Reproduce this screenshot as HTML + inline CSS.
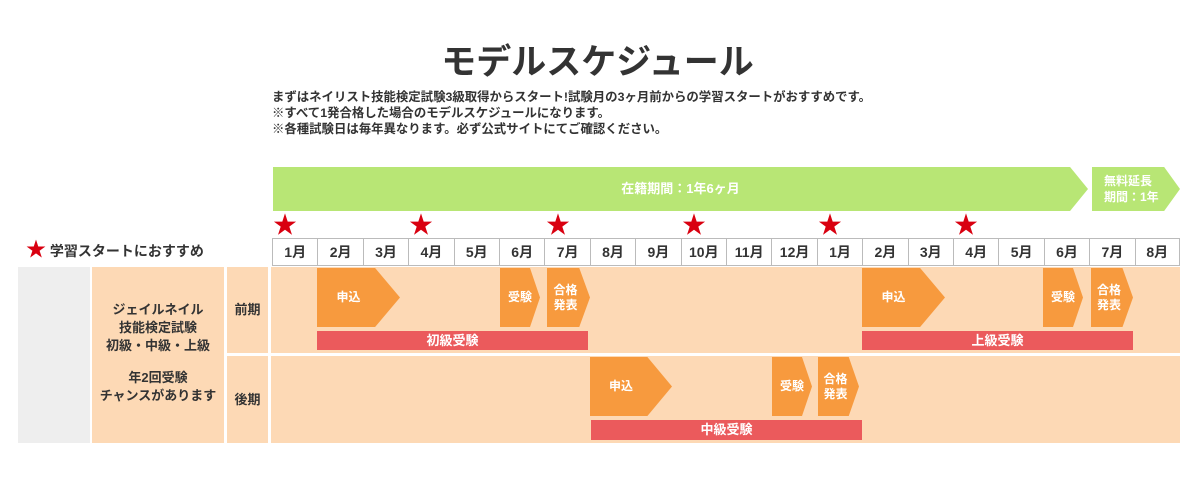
<!DOCTYPE html><html><head><meta charset="utf-8"><style>
body{margin:0;width:1200px;height:480px;background:#fff;position:relative;overflow:hidden;font-family:"Liberation Sans","Noto Sans CJK JP",sans-serif;}
.a{position:absolute;}
.t{font-weight:bold;color:#333;}
.m{position:absolute;top:238px;height:28px;width:45.4px;box-sizing:border-box;border-left:1px solid #bbb;border-top:1px solid #bbb;border-bottom:1px solid #bbb;background:#fff;text-align:center;line-height:27px;font-size:14px;font-weight:bold;color:#333;}
.ar{position:absolute;background:#f79a3e;color:#fff;font-weight:bold;font-size:12px;display:flex;align-items:center;justify-content:center;line-height:1.2;}
.rb{position:absolute;background:#eb5a5c;color:#fff;font-weight:bold;font-size:13px;text-align:center;}
.st{position:absolute;top:212px;color:#d90010;font-size:24px;line-height:28px;}
</style></head><body>
<div class="a t" style="left:0;width:1195px;text-align:center;top:34px;font-size:35px;">モデルスケジュール</div>
<div class="a t" style="left:272px;top:89px;font-size:12.4px;line-height:16px;">まずはネイリスト技能検定試験3級取得からスタート!試験月の3ヶ月前からの学習スタートがおすすめです。<br>※すべて1発合格した場合のモデルスケジュールになります。<br>※各種試験日は毎年異なります。必ず公式サイトにてご確認ください。</div>
<div class="a" style="left:273px;top:167px;width:815px;height:44px;background:#b8e675;clip-path:polygon(0 0,97.8% 0,100% 50%,97.8% 100%,0 100%);color:#fff;font-weight:bold;font-size:13px;line-height:44px;text-align:center;">在籍期間：1年6ヶ月</div>
<div class="a" style="left:1092px;top:167px;width:88px;height:44px;background:#b8e675;clip-path:polygon(0 0,82% 0,100% 50%,82% 100%,0 100%);color:#fff;font-weight:bold;font-size:12px;line-height:16px;padding:6px 0 0 12px;box-sizing:border-box;">無料延長<br>期間：1年</div>
<div class="st" style="left:273px">★</div><div class="st" style="left:409px">★</div><div class="st" style="left:546px">★</div><div class="st" style="left:682px">★</div><div class="st" style="left:818px">★</div><div class="st" style="left:954px">★</div>
<div class="a t" style="left:26px;top:238px;font-size:14px;line-height:24px;"><span style="color:#d90010;font-size:20px;">★</span> 学習スタートにおすすめ</div>
<div class="m" style="left:272px">1月</div><div class="m" style="left:317.4px">2月</div><div class="m" style="left:362.8px">3月</div><div class="m" style="left:408.2px">4月</div><div class="m" style="left:453.6px">5月</div><div class="m" style="left:499px">6月</div><div class="m" style="left:544.4px">7月</div><div class="m" style="left:589.8px">8月</div><div class="m" style="left:635.2px">9月</div><div class="m" style="left:680.6px">10月</div><div class="m" style="left:726px">11月</div><div class="m" style="left:771.4px">12月</div><div class="m" style="left:816.8px">1月</div><div class="m" style="left:862.2px">2月</div><div class="m" style="left:907.6px">3月</div><div class="m" style="left:953px">4月</div><div class="m" style="left:998.4px">5月</div><div class="m" style="left:1043.8px">6月</div><div class="m" style="left:1089.2px">7月</div><div class="m" style="left:1134.6px;border-right:1px solid #bbb">8月</div>
<div class="a" style="left:18px;top:267px;width:72px;height:176px;background:#eeeeee"></div>
<div class="a t" style="left:92px;top:267px;width:132px;height:176px;background:#fdd9b5;font-size:13px;line-height:18px;text-align:center;box-sizing:border-box;padding-top:34px;">ジェイルネイル<br>技能検定試験<br>初級・中級・上級<div style="height:14px"></div>年2回受験<br>チャンスがあります</div>
<div class="a t" style="left:227px;top:267px;width:41px;height:86px;background:#fdd9b5;font-size:13px;line-height:86px;text-align:center;">前期</div>
<div class="a t" style="left:227px;top:356px;width:41px;height:87px;background:#fdd9b5;font-size:13px;line-height:87px;text-align:center;">後期</div>
<div class="a" style="left:271px;top:267px;width:909px;height:86px;background:#fdd9b5"></div>
<div class="a" style="left:271px;top:356px;width:909px;height:87px;background:#fdd9b5"></div>
<div class="ar" style="left:317px;top:268px;width:83px;height:59px;clip-path:polygon(0 0,70% 0,100% 50%,70% 100%,0 100%);padding-right:20px;box-sizing:border-box;">申込</div>
<div class="ar" style="left:500px;top:268px;width:40px;height:59px;clip-path:polygon(0 0,75% 0,100% 50%,75% 100%,0 100%);">受験</div>
<div class="ar" style="left:547px;top:268px;width:43px;height:59px;clip-path:polygon(0 0,75% 0,100% 50%,75% 100%,0 100%);padding-right:6px;box-sizing:border-box;">合格<br>発表</div>
<div class="rb" style="left:317px;top:331px;width:271px;height:19px;line-height:19px;">初級受験</div>
<div class="ar" style="left:862px;top:268px;width:83px;height:59px;clip-path:polygon(0 0,70% 0,100% 50%,70% 100%,0 100%);padding-right:20px;box-sizing:border-box;">申込</div>
<div class="ar" style="left:1043px;top:268px;width:40px;height:59px;clip-path:polygon(0 0,75% 0,100% 50%,75% 100%,0 100%);">受験</div>
<div class="ar" style="left:1091px;top:268px;width:42px;height:59px;clip-path:polygon(0 0,75% 0,100% 50%,75% 100%,0 100%);padding-right:6px;box-sizing:border-box;">合格<br>発表</div>
<div class="rb" style="left:862px;top:331px;width:271px;height:19px;line-height:19px;">上級受験</div>
<div class="ar" style="left:590px;top:357px;width:82px;height:59px;clip-path:polygon(0 0,70% 0,100% 50%,70% 100%,0 100%);padding-right:20px;box-sizing:border-box;">申込</div>
<div class="ar" style="left:772px;top:357px;width:40px;height:59px;clip-path:polygon(0 0,75% 0,100% 50%,75% 100%,0 100%);">受験</div>
<div class="ar" style="left:818px;top:357px;width:41px;height:59px;clip-path:polygon(0 0,75% 0,100% 50%,75% 100%,0 100%);padding-right:6px;box-sizing:border-box;">合格<br>発表</div>
<div class="rb" style="left:591px;top:420px;width:271px;height:20px;line-height:20px;">中級受験</div>
</body></html>
